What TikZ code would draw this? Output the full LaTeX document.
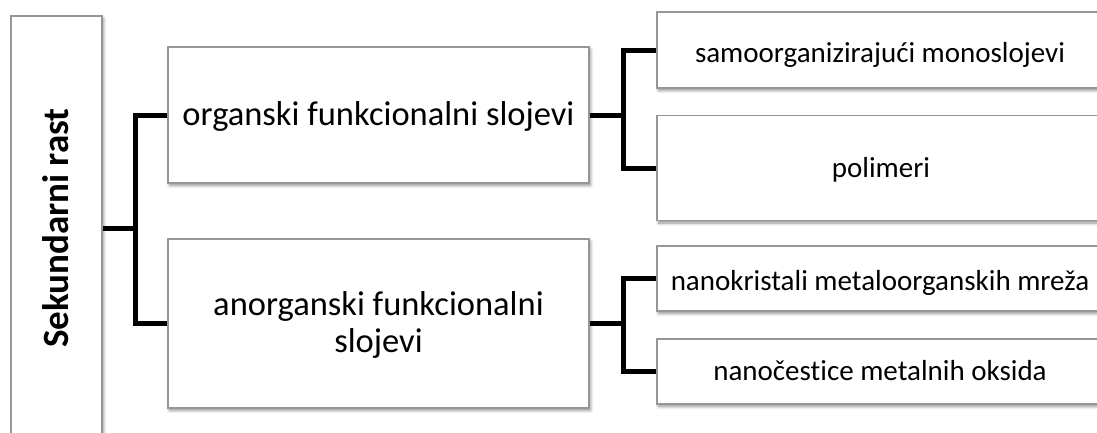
\documentclass[tikz,border=0pt]{standalone}
\usepackage{fontspec}
\setmainfont{Carlito}[Ligatures=NoCommon]
\usetikzlibrary{shadows.blur}
\definecolor{boxline}{RGB}{150,150,150}
\tikzset{
  box/.style={draw=boxline, line width=1.5pt, fill=white, rectangle, inner sep=0pt,
    blur shadow={shadow xshift=1.5pt, shadow yshift=-2.5pt, shadow blur steps=6, shadow blur radius=3pt, shadow opacity=45}},
  conn/.style={line width=5pt, draw=black, line join=miter},
  maintxt/.style={font=\fontsize{34.5}{37}\selectfont, align=center, inner sep=0pt},
  subtxt/.style={font=\fontsize{29}{32}\selectfont, inner sep=0pt},
  roottxt/.style={font=\fontsize{37}{40}\selectfont\bfseries, inner sep=0pt},
}
\begin{document}
\begin{tikzpicture}[x=1pt,y=-1pt]
\useasboundingbox (0,0) rectangle (1097,432);
\clip (0,0) rectangle (1097,432);
% boxes
\node[box, minimum width=91pt, minimum height=424pt] (root) at (56.5,228) {};
\node[box, minimum width=421pt, minimum height=136pt] (org) at (378.5,115) {};
\node[box, minimum width=421pt, minimum height=169pt] (anorg) at (378.5,323.5) {};
\node[box, minimum width=453pt, minimum height=76pt] (samo) at (883.5,50) {};
\node[box, minimum width=453pt, minimum height=105pt] (poli) at (883.5,168) {};
\node[box, minimum width=453pt, minimum height=65pt] (nano1) at (883.5,278.5) {};
\node[box, minimum width=453pt, minimum height=65pt] (nano2) at (883.5,371.5) {};
% junctions
\coordinate (j1) at (135,228);
\coordinate (j2) at (623,115);
\coordinate (j3) at (623,323.5);
% connectors
\draw[conn] (root.east) -- (j1);
\draw[conn] (org.west) -| (j1) |- (anorg.west);
\draw[conn] (org.east) -- (j2);
\draw[conn] (samo.west) -| (j2) |- (poli.west);
\draw[conn] (anorg.east) -- (j3);
\draw[conn] (nano1.west) -| (j3) |- (nano2.west);
% texts
\node[roottxt, rotate=90, anchor=base] (troot) at (68,228) {Sekundarni rast};
\node[maintxt, anchor=base] (torg) at (378.5,125) {organski funkcionalni slojevi};
\node[maintxt] (tanorg) at (378.5,325) {anorganski funkcionalni\\slojevi};
\node[subtxt, anchor=base] (tsamo) at (880,62) {samoorganizirajući monoslojevi};
\node[subtxt, anchor=base] (tpoli) at (881,177) {polimeri};
\node[subtxt, anchor=base] (tnano1) at (880,290) {nanokristali metaloorganskih mreža};
\node[subtxt, anchor=base] (tnano2) at (880,380) {nanočestice metalnih oksida};
\end{tikzpicture}
\end{document}
